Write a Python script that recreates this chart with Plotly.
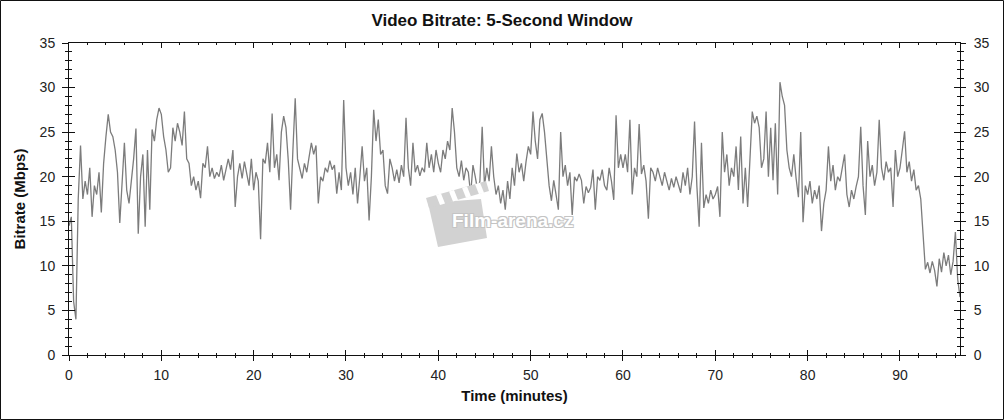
import plotly.graph_objects as go

# ---------------- data ----------------
chart_title = "Video Bitrate: 5-Second Window"
x_title = "Time (minutes)"
y_title = "Bitrate (Mbps)"
watermark_text = "Film-arena.cz"

x_tick_values = [0, 10, 20, 30, 40, 50, 60, 70, 80, 90]
y_tick_values = [0, 5, 10, 15, 20, 25, 30, 35]

time_step_min = 0.25  # sampling step of the values below (minutes)

bitrate_mbps = [
    # 0 - 4.75 min
    14.5, 15.5, 6, 4, 17.5, 23.5, 17.5, 19.5, 18, 21, 15.5, 19, 18, 20.5, 16, 21.5, 24.5, 27, 25, 24.5,
    # 5 - 9.75
    23, 20.5, 14.8, 19, 23.8, 18.5, 17, 19.5, 22, 25.4, 13.6, 20, 22.5, 14.4, 23, 16.3, 25.3, 24, 26.4, 27.7,
    # 10 - 14.75
    27, 24.5, 23, 20.5, 21, 25.5, 24, 26, 25, 23.5, 27.3, 22, 21.5, 19, 20, 18.5, 19.5, 17.6, 21.5, 21,
    # 15 - 19.75
    23.4, 20, 21, 19.8, 20.5, 20, 21.3, 19.6, 21, 22, 20.8, 23, 16.6, 20, 21.5, 19.8, 21.7, 20.5, 19, 22,
    # 20 - 24.75
    18.5, 20.5, 19.5, 13, 22, 21.5, 23.8, 20.5, 27.1, 21, 22.5, 19.6, 25, 26.8, 25.5, 21.8, 16.3, 23, 28.8, 22,
    # 25 - 29.75
    21, 19.8, 21.5, 20.5, 22.2, 23.8, 22.5, 23.5, 17, 20, 19.5, 21, 20.5, 21.8, 20.8, 21.3, 18.1, 20.5, 18.5, 28.6,
    # 30 - 34.75
    21, 19, 20.5, 18, 21, 17, 20, 23.4, 19.5, 21, 15.1, 20, 27.5, 24, 26.4, 22.5, 23, 19, 18.1, 22,
    # 35 - 39.75
    21, 19.5, 20.8, 19.3, 21.3, 20, 26.6, 21, 19, 23.8, 20.5, 21.3, 20.1, 21, 20.5, 23.8, 21, 22.5, 20.5, 23,
    # 40 - 44.75
    21.5, 20.5, 23, 22, 24, 23, 27.7, 25, 21, 20, 21.8, 19.6, 21, 20.5, 18, 21.3, 20, 18.5, 19.5, 25.6,
    # 45 - 49.75
    19, 21, 19.5, 23.4, 20, 18, 19, 17, 18.5, 16.3, 19.5, 17.5, 21, 19, 22.6, 20.5, 21.5, 19.5, 21.7, 23.4,
    # 50 - 54.75
    22.5, 27.3, 24, 22, 26.4, 27.1, 25, 22, 19, 17.3, 19.6, 18, 16.3, 25, 20, 21.3, 19, 20.5, 15.7, 20,
    # 55 - 59.75
    19.5, 20.3, 19.6, 17, 18.9, 18.2, 18.8, 20.8, 16.3, 20, 19.6, 20.8, 19, 18.5, 21, 19.5, 17.4, 26.9, 21, 22.5,
    # 60 - 64.75
    21, 22.5, 20.5, 26.4, 18, 21, 20, 25.9, 20.3, 21.3, 19.5, 15.3, 21, 20.5, 19.5, 21, 20, 19, 20.5, 19.5,
    # 65 - 69.75
    18.5, 19.8, 18.8, 20, 19, 18.2, 20.5, 19, 21, 18, 20, 26.2, 19, 14.4, 23.8, 16.5, 18, 17, 18.5, 17.5,
    # 70 - 74.75
    18, 18.9, 15.5, 25, 20.5, 22.5, 19, 21, 20, 23.4, 18.5, 24.5, 17, 21, 16.6, 22, 27.3, 26, 26.8, 25.5,
    # 75 - 79.75
    21, 22, 27.3, 20, 25.5, 19.6, 26, 18, 30.6, 29, 28, 23, 21, 20, 22.5, 19.8, 17.7, 25, 14.9, 19,
    # 80 - 84.75
    18, 19.5, 17, 18.5, 17.5, 19, 13.9, 17, 18.5, 23.4, 19.5, 21.3, 18.5, 20, 19.5, 21, 22.5, 18, 16.6, 18.5,
    # 85 - 89.75
    17.5, 18.9, 20, 25.6, 19, 15.7, 24, 20, 21.3, 19, 20.5, 26.4, 21, 19.6, 21.7, 20.5, 21, 16.6, 23, 20,
    # 90 - 94.75
    21, 23, 25.1, 20.5, 21.7, 19.5, 20.8, 18.5, 19, 17.5, 13, 9.6, 10.4, 9.2, 10.5, 9.5, 7.7, 10.8, 9.3, 11.5,
    # 95 - 96.5
    10, 11.2, 9, 10.5, 13.8, 8.5, 6.5,
]

time_min = [round(i * time_step_min, 2) for i in range(len(bitrate_mbps))]

# ---------------- layout geometry ----------------
W, H = 1004, 420
PL, PR, PT, PB = 69, 960, 43, 355  # plot area in pixels
X_MAX = 96.5
FONT = "Liberation Sans, Arial, sans-serif"


def px_x(x):
    return (x - PL) / (PR - PL)


def px_y(y):
    return (PB - y) / (PB - PT)


fig = go.Figure()

fig.add_trace(go.Scatter(
    x=time_min, y=bitrate_mbps, mode="lines",
    line=dict(color="#7c7c7c", width=1.3),
    showlegend=False, hoverinfo="x+y",
))
# dummy traces so the overlay axes (inner tick marks / right labels) are drawn
fig.add_trace(go.Scatter(x=[None], y=[None], xaxis="x2", yaxis="y3", showlegend=False, hoverinfo="skip"))
fig.add_trace(go.Scatter(x=[None], y=[None], xaxis="x", yaxis="y2", showlegend=False, hoverinfo="skip"))

tickfont = dict(family=FONT, size=14, color="#222")

fig.update_layout(
    width=W, height=H,
    margin=dict(l=PL, r=W - PR, t=PT, b=H - PB, autoexpand=False),
    paper_bgcolor="white", plot_bgcolor="white",
    font=dict(family=FONT, color="#222"),
    title=dict(text="<b>" + chart_title + "</b>", x=0.5, xref="container", xanchor="center",
               y=1 - 20.5 / H, yref="container", yanchor="middle",
               font=dict(family=FONT, size=17, color="#111")),
    xaxis=dict(range=[0, X_MAX], tickvals=x_tick_values, ticks="outside", ticklen=5,
               tickcolor="#111", showline=True, linecolor="#111", linewidth=1, mirror=True,
               showgrid=False, zeroline=False, tickfont=tickfont, ticklabelstandoff=2,
               minor=dict(ticks="outside", ticklen=2, dtick=2, tick0=0, tickcolor="#111"),
               title=dict(text="<b>" + x_title + "</b>", standoff=8,
                          font=dict(family=FONT, size=15, color="#111")),
               automargin=False),
    xaxis2=dict(overlaying="x", matches="x", anchor="y", side="bottom", ticks="inside", ticklen=5,
                tickvals=x_tick_values, tickcolor="#111", showticklabels=False, mirror="ticks",
                showline=False, showgrid=False, zeroline=False,
                minor=dict(ticks="inside", ticklen=2, dtick=2, tick0=0, tickcolor="#111")),
    yaxis=dict(range=[0, 35], tickvals=y_tick_values, ticks="outside", ticklen=6,
               tickcolor="#111", showline=True, linecolor="#111", linewidth=1, mirror=True,
               showgrid=False, zeroline=False, tickfont=tickfont, ticklabelstandoff=4,
               minor=dict(ticks="outside", ticklen=3, dtick=1, tick0=0, tickcolor="#111"),
               title=dict(text="<b>" + y_title + "</b>", standoff=10,
                          font=dict(family=FONT, size=15, color="#111")),
               automargin=False),
    yaxis2=dict(overlaying="y", matches="y", anchor="x", side="right", ticks="outside", ticklen=5,
                tickvals=y_tick_values, tickcolor="#111", showline=False, showgrid=False,
                zeroline=False, tickfont=tickfont, ticklabelstandoff=5,
                minor=dict(ticks="outside", ticklen=3, dtick=1, tick0=0, tickcolor="#111")),
    yaxis3=dict(overlaying="y", matches="y", anchor="x2", side="left", ticks="inside", ticklen=6,
                tickvals=y_tick_values, tickcolor="#111", showticklabels=False, mirror="ticks",
                showline=False, showgrid=False, zeroline=False,
                minor=dict(ticks="inside", ticklen=3, dtick=1, tick0=0, tickcolor="#111")),
)

# watermark: clapperboard + text
WM = "#d2d2d2"
body = [(428, 203), (481, 199), (487, 238), (438, 247)]
stick = [(426, 198), (486, 181), (489, 191), (429, 208)]


def path_of(pts):
    s = "M " + " L ".join(f"{px_x(x):.5f},{px_y(y):.5f}" for x, y in pts) + " Z"
    return s


fig.add_shape(type="path", path=path_of(body), xref="paper", yref="paper",
              fillcolor=WM, line=dict(width=0), layer="above")
fig.add_shape(type="path", path=path_of(stick), xref="paper", yref="paper",
              fillcolor=WM, line=dict(width=0), layer="above")
for k in range(4):
    x0 = 436 + k * 13
    y0 = 195 - k * 3.6
    stripe = [(x0, y0), (x0 + 5, y0 - 1.4), (x0 + 9, y0 + 8.6), (x0 + 4, y0 + 10)]
    fig.add_shape(type="path", path=path_of(stripe), xref="paper", yref="paper",
                  fillcolor="white", line=dict(width=0), layer="above")

fig.add_annotation(text="<b>" + watermark_text + "</b>", x=px_x(512), y=px_y(220),
                   xref="paper", yref="paper", showarrow=False, xanchor="center", yanchor="middle",
                   font=dict(family=FONT, size=19, color="white",
                             shadow="1px 1px 0 #c4c4c4, -1px -1px 0 #c4c4c4, 1px -1px 0 #c4c4c4, -1px 1px 0 #c4c4c4"))

# outer frame
fig.add_shape(type="rect", xref="paper", yref="paper",
              x0=px_x(0.5), x1=px_x(W - 0.5), y0=px_y(H - 0.5), y1=px_y(0.5),
              line=dict(color="#111", width=1), fillcolor="rgba(0,0,0,0)", layer="above")

fig.write_html("out.html", config={"displayModeBar": False},
               post_script="document.body.style.margin='0px';")
